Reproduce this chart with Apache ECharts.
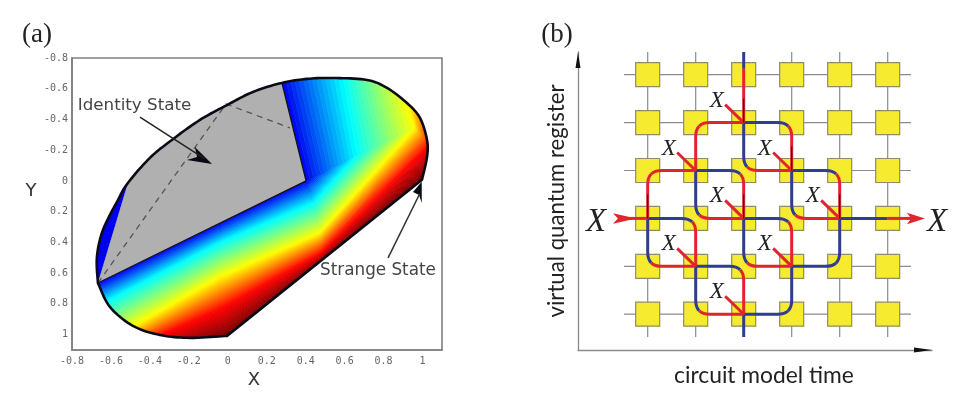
<!DOCTYPE html>
<html><head><meta charset="utf-8">
<style>html,body{margin:0;padding:0;background:#fff}#c{width:974px;height:402px}</style>
<script src="https://cdn.jsdelivr.net/npm/echarts@6/dist/echarts.min.js"></script>
</head><body><div id="c"></div>
<script>
// ---------- panel (a): values, in plot units ----------
const lowerArc = [[-0.667,0.664],[-0.605,0.820],[-0.487,0.943],[-0.348,1.002],[-0.194,1.021],[-0.004,1.008]];
const upperArc = [[0.997,-0.007],[1.023,-0.156],[1.023,-0.267],[0.987,-0.410],[0.920,-0.507],
 [0.818,-0.605],[0.715,-0.657],[0.540,-0.670],[0.407,-0.664],[0.278,-0.638],[0.129,-0.579],[-0.004,-0.494],
 [-0.143,-0.397],[-0.287,-0.267],[-0.400,-0.150],[-0.513,0.013],[-0.564,0.124],[-0.641,0.319],[-0.672,0.494],[-0.667,0.664]];
const grayRegion = [[-0.667,0.664],[-0.513,0.013],[-0.5,-0.7],[0.253,-0.768],[0.402,0.000]];
const sliver = [[-0.667,0.664],[-0.513,0.013],[-0.9,0.0],[-0.9,0.7]];
const grayEdge = [[-0.667,0.664],[0.402,0.000],[0.278,-0.638]];
const dashedEdge = [[-0.667,0.664],[-0.009,-0.501],[0.319,-0.345]];
const contourBlue   = [[-0.810,0.755],[-0.040,0.277],[0.402,0.000],[0.402,0.000],[0.253,-0.768]];
const contourCyan   = [[-0.733,0.859],[-0.040,0.403],[0.443,0.143],[0.664,-0.169],[0.576,-0.787]];
const contourYellow = [[-0.579,1.015],[-0.040,0.625],[0.474,0.338],[0.961,-0.345],[0.859,-0.787]];
const contourRed    = [[-0.451,1.067],[-0.040,0.839],[0.474,0.475],[1.039,-0.234],[1.090,-0.787]];
const contourDark   = [[-0.194,1.067],[0.001,1.021],[0.474,0.540],[1.013,-0.020],[1.141,-0.332]];
const contours = [contourBlue,contourCyan,contourYellow,contourRed,contourDark];
const contourColors = [[0,0,240],[0,255,255],[255,255,0],[255,0,0],[110,0,0]];
const identityArrowLine = [[-0.451,-0.416],[-0.120,-0.145]];
const identityArrowHead = [[-0.081,-0.111],[-0.169,-0.221],[-0.158,-0.156],[-0.210,-0.137]];
const strangeArrowLine = [[0.823,0.501],[0.985,0.085]];
const strangeArrowHead = [[0.996,0.005],[0.951,0.072],[0.982,0.091],[0.996,0.143]];

// ---------- panel (b): node indices (column, row from top) ----------
const cols = [0,1,2,3,4,5];
const rows = [0,1,2,3,4,5];
const gridEnds = {colMin:-0.494,colMax:5.485,rowMin:-0.474,rowMax:5.476};
// first node, corner node, last node, colour of first half, colour of second half (0 blue, 1 red)
const turns = [[1,2,1,1,2,1,1,1],[2,1,3,1,3,2,0,1],[0,3,0,2,1,2,1,1],[1,2,2,2,2,3,0,1],
 [1,2,1,3,2,3,0,1],[2,1,2,2,3,2,0,1],[3,2,4,2,4,3,0,1],[3,2,3,3,4,3,0,1],
 [0,3,1,3,1,4,0,1],[0,3,0,4,1,4,0,1],[1,4,2,4,2,5,0,1],[1,4,1,5,2,5,0,1],
 [2,3,3,3,3,4,0,1],[2,3,2,4,3,4,0,1],[3,4,4,4,4,3,0,0],[3,4,3,5,2,5,0,0]];
const blueRuns = [[2,-0.474,2,-0.14],[2,5,2,5.476],[4,3,5,3]];
const redRuns = [[2,-0.14,2,1],[-0.62,3,0,3],[5,3,5.5,3]];
const xNodes = [[2,1],[1,2],[3,2],[4,3],[2,3],[1,4],[3,4],[2,5]];
const blackTicks = [[2,1],[0,3],[2,3],[3,2],[4,3]];
const arrowRight = [[5.777,3],[5.40,2.88],[5.49,3],[5.40,3.12]];
const arrowLeft = [[-0.244,3],[-0.723,2.89],[-0.62,3],[-0.723,3.11]];
const yAxisHead = [[-1.452,-0.474],[-1.504,-0.14],[-1.400,-0.14]];
const xAxisHead = [[5.923,5.747],[5.548,5.695],[5.548,5.799]];

const RED='#E1252D', BLUE='#2F3C8F';
const inA={xAxisIndex:0,yAxisIndex:0}, inB={xAxisIndex:1,yAxisIndex:1};

function curve(P){ // rounds a run of read points on screen
  const out=[];
  for(let i=0;i<P.length-1;i++){
    const p0=P[Math.max(i-1,0)],p1=P[i],p2=P[i+1],p3=P[Math.min(i+2,P.length-1)];
    for(let k=0;k<10;k++){const t=k/10,t2=t*t,t3=t2*t;
      out.push([0,1].map(j=>0.5*(2*p1[j]+(p2[j]-p0[j])*t+(2*p0[j]-5*p1[j]+4*p2[j]-p3[j])*t2+(3*p1[j]-p0[j]-3*p2[j]+p3[j])*t3)));}
  }
  out.push(P[P.length-1]);
  return out;
}
function outlinePx(api){
  return curve(lowerArc.map(q=>api.coord(q))).concat(curve(upperArc.map(q=>api.coord(q))));
}
function polySeries(pts,color,axes,z){
  return Object.assign({type:'custom',z,silent:true,data:pts,clip:false,renderItem(p,api){
    if(p.dataIndex!==0) return null;
    return {type:'polygon',shape:{points:pts.map(q=>api.coord(q))},style:{fill:color}};
  }},axes);
}
function lineSeries(pts,color,width,axes,z,extra){
  return Object.assign({type:'line',z,silent:true,data:pts,symbol:'none',clip:false,
    lineStyle:Object.assign({color,width},extra||{})},axes);
}
function segSeries(segs,color,width,z){
  return Object.assign({type:'custom',z,silent:true,data:segs,clip:false,renderItem(p,api){
    const a=api.coord([api.value(0),api.value(1)]),b=api.coord([api.value(2),api.value(3)]);
    return {type:'line',shape:{x1:a[0],y1:a[1],x2:b[0],y2:b[1]},style:{stroke:color,lineWidth:width,fill:null}};
  }},inB);
}
function turnSeries(which,z){
  return Object.assign({type:'custom',z,silent:true,data:turns,clip:false,renderItem(p,api){
    const v=i=>api.value(i);
    const s=api.coord([v(0),v(1)]),c=api.coord([v(2),v(3)]),e=api.coord([v(4),v(5)]);
    const r=14,toward=(f,t)=>{const d=Math.hypot(t[0]-f[0],t[1]-f[1]);return[f[0]+(t[0]-f[0])*r/d,f[1]+(t[1]-f[1])*r/d]};
    const a=toward(c,s),b=toward(c,e);
    const q1=[(a[0]+c[0])/2,(a[1]+c[1])/2],q2=[(b[0]+c[0])/2,(b[1]+c[1])/2],m=[(q1[0]+q2[0])/2,(q1[1]+q2[1])/2];
    const kids=[];
    const style=col=>({fill:'none',stroke:col,lineWidth:3});
    if(v(6)===which) kids.push({type:'path',shape:{pathData:`M${s[0]} ${s[1]}L${a[0]} ${a[1]}Q${q1[0]} ${q1[1]} ${m[0]} ${m[1]}`},style:style(which?RED:BLUE)});
    if(v(7)===which) kids.push({type:'path',shape:{pathData:`M${m[0]} ${m[1]}Q${q2[0]} ${q2[1]} ${b[0]} ${b[1]}L${e[0]} ${e[1]}`},style:style(which?RED:BLUE)});
    return {type:'group',children:kids};
  }},inB);
}

const gridSegs=[];
cols.forEach(c=>gridSegs.push([c,gridEnds.rowMin,c,gridEnds.rowMax]));
rows.forEach(r=>gridSegs.push([gridEnds.colMin,r,gridEnds.colMax,r]));
const nodes=[];
cols.forEach(c=>rows.forEach(r=>nodes.push([c,r])));

const shading=Object.assign({type:'custom',z:2,silent:true,data:[[0,0]],clip:false,renderItem(p,api){
  const kids=[],N=14,lerp=(a,b,t)=>[a[0]+(b[0]-a[0])*t,a[1]+(b[1]-a[1])*t];
  for(let b=0;b<contours.length-1;b++){
    const P=contours[b].map(q=>api.coord(q)),Q=contours[b+1].map(q=>api.coord(q));
    const c0=contourColors[b],c1=contourColors[b+1];
    for(let s=0;s<P.length-1;s++)for(let i=0;i<N;i++){
      const t0=i/N,t1=(i+1)/N,tm=(t0+t1)/2;
      const col=`rgb(${c0.map((x,k)=>Math.round(x+(c1[k]-x)*tm)).join(',')})`;
      kids.push({type:'polygon',shape:{points:[lerp(P[s],Q[s],t0),lerp(P[s+1],Q[s+1],t0),lerp(P[s+1],Q[s+1],t1),lerp(P[s],Q[s],t1)]},
        style:{fill:col,stroke:col,lineWidth:0.7}});
    }
  }
  kids.push({type:'polygon',shape:{points:grayRegion.map(q=>api.coord(q))},style:{fill:'#B0B0B0'}});
  kids.push({type:'polygon',shape:{points:sliver.map(q=>api.coord(q))},style:{fill:'#0000F0'}});
  return {type:'group',children:kids,clipPath:{type:'polygon',shape:{points:outlinePx(api)}}};
}},inA);
const outline=Object.assign({type:'custom',z:6,silent:true,data:[[0,0]],clip:false,renderItem(p,api){
  return {type:'polygon',shape:{points:outlinePx(api)},style:{fill:'none',stroke:'#0b0b18',lineWidth:2.6}};
}},inA);

const sans='"DejaVu Sans"', mono='"DejaVu Sans Mono"', serif='"Liberation Serif"';
const txt=(text,x,y,font,size,fill,extra)=>({type:'text',x,y,silent:true,z:50,style:Object.assign({text,fontFamily:font,fontSize:size,fill,textAlign:'center',textVerticalAlign:'middle'},extra||{})});

const chart=echarts.init(document.getElementById('c'),null,{renderer:'canvas'});
const tickFmt=v=>String(v);
chart.setOption({
  animation:false,backgroundColor:'#fff',
  grid:[{left:72,top:58,width:370,height:292,show:true,borderColor:'#808080',borderWidth:1.6,backgroundColor:'transparent'},
        {left:578,top:52,width:354,height:298,show:false}],
  xAxis:[{type:'value',gridIndex:0,min:-0.8,max:1.1,interval:0.2,splitLine:{show:false},axisTick:{show:false},
          axisLine:{show:true,onZero:false,lineStyle:{color:'#808080',width:1.6}},
          axisLabel:{fontFamily:mono,fontSize:10,color:'#666',margin:6,showMaxLabel:false,formatter:tickFmt},
          name:'X',nameLocation:'middle',nameGap:11,nameTextStyle:{fontFamily:sans,fontSize:18,color:'#333',padding:[0,6,0,0]}},
         {type:'value',gridIndex:1,min:-1.452,max:5.923,splitLine:{show:false},axisTick:{show:false},axisLabel:{show:false},
          axisLine:{show:true,onZero:false,lineStyle:{color:'#8a8a8a',width:1.3}},
          name:'circuit model time',nameLocation:'middle',nameGap:14,nameTextStyle:{fontFamily:'Lato',fontSize:22.8,color:'#222',padding:[0,0,0,18]}}],
  yAxis:[{type:'value',gridIndex:0,inverse:true,min:-0.8,max:1.1,interval:0.2,splitLine:{show:false},axisTick:{show:false},
          axisLine:{show:true,onZero:false,lineStyle:{color:'#808080',width:1.6}},
          axisLabel:{fontFamily:mono,fontSize:10,color:'#666',margin:4,showMaxLabel:false,formatter:tickFmt}},
         {type:'value',gridIndex:1,inverse:true,min:-0.474,max:5.747,splitLine:{show:false},axisTick:{show:false},axisLabel:{show:false},
          axisLine:{show:true,onZero:false,lineStyle:{color:'#8a8a8a',width:1.3}},
          name:'virtual quantum register',nameLocation:'middle',nameGap:10,nameTextStyle:{fontFamily:'Lato',fontSize:22.2,color:'#222'}}],
  series:[
    shading,
    lineSeries(dashedEdge,'#555',1.3,inA,4,{type:[6,5]}),
    lineSeries(grayEdge,'#111',1.3,inA,5),
    outline,
    lineSeries(identityArrowLine,'#222',1.5,inA,7),
    polySeries(identityArrowHead,'#0a0a14',inA,7),
    lineSeries(strangeArrowLine,'#333',1.5,inA,7),
    polySeries(strangeArrowHead,'#0a0a14',inA,7),
    segSeries(gridSegs,'#8c8c8c',1.2,1),
    Object.assign({type:'scatter',z:2,silent:true,data:nodes,symbol:'rect',symbolSize:24,
      itemStyle:{color:'#F6EB2F',borderColor:'#8d8c6a',borderWidth:1.2,opacity:1}},inB),
    turnSeries(0,3),
    segSeries(blueRuns,BLUE,3,3),
    turnSeries(1,4),
    segSeries(redRuns,RED,3,4),
    Object.assign({type:'custom',z:5,silent:true,data:xNodes,clip:false,renderItem(p,api){
      const n=api.coord([api.value(0),api.value(1)]);
      return {type:'group',children:[
        {type:'line',shape:{x1:n[0]-18.5,y1:n[1]-18,x2:n[0],y2:n[1]},style:{stroke:RED,lineWidth:3,fill:null}},
        {type:'text',x:n[0]-27,y:n[1]-22,style:{text:'X',fontFamily:serif,fontStyle:'italic',fontSize:23,fill:'#222',textAlign:'center',textVerticalAlign:'middle'}}
      ]};
    }},inB),
    Object.assign({type:'custom',z:6,silent:true,data:blackTicks,clip:false,renderItem(p,api){
      const n=api.coord([api.value(0),api.value(1)]);
      return {type:'line',shape:{x1:n[0],y1:n[1]-24,x2:n[0],y2:n[1]},style:{stroke:'#111',lineWidth:1,fill:null}};
    }},inB),
    polySeries(arrowRight,RED,inB,5),
    polySeries(arrowLeft,RED,inB,5),
    polySeries(yAxisHead,'#111',inB,5),
    polySeries(xAxisHead,'#111',inB,5)
  ],
  graphic:[
    txt('(a)',37,35,serif,27,'#222'),
    txt('(b)',557,35,serif,27,'#222'),
    txt('Identity State',134.5,106,sans,16.7,'#444'),
    txt('Strange State',378,271,sans,16.8,'#444'),
    txt('Y',31,191,sans,18,'#333'),
    txt('X',596,222,serif,33,'#222',{fontStyle:'italic'}),
    txt('X',937,222,serif,33,'#222',{fontStyle:'italic'})
  ]
});
</script></body></html>
